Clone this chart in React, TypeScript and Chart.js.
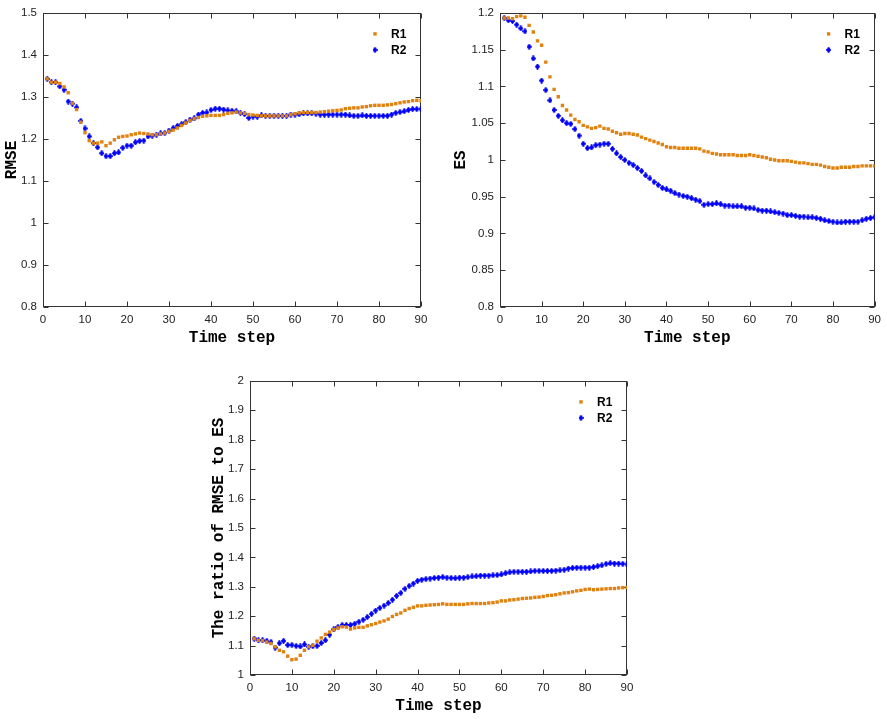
import React, { useEffect, useRef } from 'react';
import { Chart, registerables } from 'chart.js';

Chart.register(...registerables);

const TIME_STEPS = [
  1, 2, 3, 4, 5, 6, 7, 8, 9, 10, 11, 12, 13, 14, 15, 16, 17, 18, 19, 20,
  21, 22, 23, 24, 25, 26, 27, 28, 29, 30, 31, 32, 33, 34, 35, 36, 37, 38, 39, 40,
  41, 42, 43, 44, 45, 46, 47, 48, 49, 50, 51, 52, 53, 54, 55, 56, 57, 58, 59, 60,
  61, 62, 63, 64, 65, 66, 67, 68, 69, 70, 71, 72, 73, 74, 75, 76, 77, 78, 79, 80,
  81, 82, 83, 84, 85, 86, 87, 88, 89, 90,
];

const SERIES_LABELS = ['R1', 'R2'];
const X_TITLE = 'Time step';

const RMSE_R1 = [
  1.343, 1.335, 1.335, 1.332, 1.324, 1.31, 1.285, 1.27, 1.24, 1.215,
  1.196, 1.19, 1.19, 1.193, 1.184, 1.19, 1.198, 1.204, 1.206, 1.207,
  1.21, 1.212, 1.214, 1.213, 1.212, 1.21, 1.21, 1.212, 1.214, 1.218,
  1.221, 1.226, 1.232, 1.238, 1.244, 1.248, 1.251, 1.254, 1.255, 1.256,
  1.256, 1.256, 1.258, 1.261, 1.262, 1.264, 1.262, 1.261, 1.258, 1.257,
  1.256, 1.255, 1.255, 1.255, 1.255, 1.255, 1.255, 1.255, 1.258, 1.26,
  1.262, 1.263, 1.263, 1.263, 1.263, 1.264, 1.265, 1.266, 1.267, 1.268,
  1.269, 1.272, 1.273, 1.274, 1.274, 1.276, 1.277, 1.279, 1.28, 1.28,
  1.28, 1.281, 1.282, 1.284, 1.286, 1.288, 1.289, 1.291, 1.292, 1.291,
];
const RMSE_R2 = [
  1.343, 1.335, 1.335, 1.325, 1.317, 1.289, 1.284, 1.275, 1.243, 1.225,
  1.206, 1.19, 1.18, 1.166, 1.159, 1.159, 1.166, 1.168, 1.179, 1.184,
  1.184, 1.192, 1.195, 1.196, 1.206, 1.208, 1.21, 1.213, 1.214, 1.22,
  1.226, 1.231, 1.235, 1.24, 1.246, 1.249, 1.258, 1.262, 1.263, 1.269,
  1.272, 1.272, 1.27, 1.268, 1.267, 1.266, 1.262, 1.259, 1.25, 1.253,
  1.253, 1.256, 1.255, 1.255, 1.255, 1.255, 1.255, 1.255, 1.258, 1.258,
  1.259, 1.261, 1.261, 1.261, 1.26, 1.258, 1.258, 1.258, 1.258, 1.258,
  1.258, 1.258, 1.256, 1.255, 1.255, 1.256, 1.255, 1.255, 1.255, 1.255,
  1.255, 1.255, 1.258, 1.262, 1.264, 1.266, 1.269, 1.271, 1.271, 1.271,
];

const ES_R1 = [
  1.193, 1.193, 1.192, 1.195, 1.196, 1.194, 1.183, 1.174, 1.162, 1.156,
  1.133, 1.113, 1.096, 1.086, 1.074, 1.068, 1.061, 1.055, 1.052, 1.047,
  1.045, 1.043, 1.044, 1.046, 1.043, 1.042, 1.039, 1.037, 1.035, 1.036,
  1.036, 1.035, 1.034, 1.031, 1.029, 1.027, 1.025, 1.023, 1.021, 1.018,
  1.017, 1.017, 1.016, 1.016, 1.016, 1.016, 1.016, 1.015, 1.012, 1.011,
  1.009, 1.008, 1.007, 1.007, 1.007, 1.007, 1.006, 1.006, 1.006, 1.007,
  1.006, 1.005, 1.004, 1.003, 1.001, 1.0, 0.999, 0.999, 0.999, 0.998,
  0.997, 0.996, 0.996, 0.995, 0.994, 0.994, 0.993, 0.991, 0.99, 0.989,
  0.989, 0.99, 0.99, 0.99, 0.991, 0.991, 0.992, 0.992, 0.992, 0.992,
];
const ES_R2 = [
  1.193, 1.19, 1.189, 1.184, 1.179, 1.175, 1.154, 1.138, 1.127, 1.108,
  1.095, 1.081, 1.068, 1.06, 1.054, 1.05, 1.049, 1.042, 1.033, 1.022,
  1.016, 1.017, 1.02, 1.021, 1.022, 1.022, 1.015, 1.009, 1.004, 1.0,
  0.996, 0.993, 0.989, 0.985, 0.979, 0.975, 0.97, 0.966, 0.962, 0.96,
  0.958, 0.955, 0.953, 0.951, 0.95, 0.948, 0.946, 0.944, 0.939, 0.94,
  0.94, 0.941, 0.94, 0.938, 0.938, 0.937, 0.937, 0.937, 0.935, 0.935,
  0.934, 0.932, 0.931, 0.931, 0.93, 0.929, 0.928, 0.927, 0.925, 0.925,
  0.924, 0.923, 0.923, 0.922, 0.922, 0.921, 0.92, 0.918, 0.917, 0.916,
  0.915, 0.915, 0.916, 0.916, 0.916, 0.916, 0.918, 0.92, 0.921, 0.922,
];

const RATIO_R1 = [
  1.124, 1.118, 1.117, 1.112, 1.107, 1.096, 1.084, 1.079, 1.064, 1.052,
  1.054, 1.067, 1.084, 1.096, 1.101, 1.115, 1.126, 1.138, 1.146, 1.154,
  1.16, 1.164, 1.163, 1.156, 1.16, 1.162, 1.162, 1.167, 1.171, 1.175,
  1.18, 1.184, 1.19, 1.199, 1.206, 1.211, 1.22, 1.226, 1.23, 1.235,
  1.235, 1.237, 1.238, 1.239, 1.24, 1.242, 1.24, 1.24, 1.24, 1.24,
  1.24, 1.242, 1.243, 1.243, 1.243, 1.243, 1.245, 1.246, 1.248, 1.252,
  1.252, 1.255, 1.256, 1.258, 1.26, 1.261, 1.262, 1.264, 1.265, 1.267,
  1.27, 1.271, 1.273, 1.276, 1.279, 1.28, 1.283, 1.286, 1.288, 1.291,
  1.292, 1.29, 1.291, 1.292, 1.293, 1.294, 1.294, 1.296, 1.297, 1.298,
];
const RATIO_R2 = [
  1.124, 1.118, 1.118, 1.116, 1.112, 1.093, 1.108, 1.116, 1.102, 1.102,
  1.099, 1.097, 1.104, 1.096, 1.098, 1.099, 1.109, 1.118, 1.137, 1.155,
  1.163, 1.17, 1.17, 1.17, 1.174, 1.181, 1.188, 1.197, 1.208, 1.219,
  1.228, 1.236, 1.245, 1.256, 1.269, 1.279, 1.293, 1.303, 1.311, 1.32,
  1.324, 1.326, 1.328, 1.33, 1.331, 1.333, 1.331, 1.33, 1.329, 1.331,
  1.331, 1.333, 1.335, 1.336, 1.338, 1.338, 1.338, 1.339, 1.34, 1.342,
  1.346, 1.349, 1.351, 1.351, 1.351, 1.351, 1.352, 1.354, 1.354, 1.354,
  1.354, 1.354, 1.355, 1.356, 1.358, 1.362, 1.364, 1.365, 1.365, 1.365,
  1.365, 1.367, 1.37, 1.373, 1.378, 1.38, 1.379, 1.379, 1.378, 1.376,
];

const R1_COLOR = '#e0820f';
const R2_COLOR = '#0000f5';
const R1_RADIUS = 2.4;

const TITLE_FONT = { family: '"Liberation Mono", "DejaVu Sans Mono", monospace', size: 16, weight: 'bold' as const };
const TICK_FONT = { family: '"Liberation Sans", Arial, sans-serif', size: 11.5 };

// tall diamond marker (gnuplot-like), used as a Chart.js point style image
function makeDiamond(color: string): HTMLCanvasElement {
  const c = document.createElement('canvas');
  c.width = 5;
  c.height = 6;
  const g = c.getContext('2d')!;
  g.fillStyle = color;
  g.beginPath();
  g.moveTo(2.5, 0);
  g.lineTo(5, 3);
  g.lineTo(2.5, 6);
  g.lineTo(0, 3);
  g.closePath();
  g.fill();
  g.fillRect(1.5, 0.5, 2, 5);
  g.fillRect(0.5, 2, 4, 2);
  return c;
}

function drawMarker(ctx: CanvasRenderingContext2D, style: any, x: number, y: number, r: number, color: string) {
  if (style && typeof style === 'object' && 'width' in style) {
    ctx.drawImage(style, x - style.width / 2, y - style.height / 2);
    return;
  }
  ctx.fillStyle = color;
  const s = Math.SQRT1_2 * r;
  ctx.beginPath();
  ctx.rect(x - s, y - s, 2 * s, 2 * s);
  ctx.fill();
}

const framePlugin = {
  id: 'gnuFrame',
  beforeDatasetsDraw(chart: any) {
    const { ctx, chartArea, scales } = chart;
    const { left, right, top, bottom } = chartArea;
    ctx.save();
    ctx.strokeStyle = '#333';
    ctx.lineWidth = 1;
    const L = Math.round(left) + 0.5;
    const R = Math.round(right) - 0.5;
    const T = Math.round(top) + 0.5;
    const B = Math.round(bottom) - 0.5;
    ctx.strokeRect(L, T, R - L, B - T);
    const tick = 5;
    ctx.beginPath();
    scales.x.ticks.forEach((t: any) => {
      const px = Math.round(scales.x.getPixelForValue(t.value)) + 0.5;
      ctx.moveTo(px, B);
      ctx.lineTo(px, B - tick);
      ctx.moveTo(px, T);
      ctx.lineTo(px, T + tick);
    });
    scales.y.ticks.forEach((t: any) => {
      const py = Math.round(scales.y.getPixelForValue(t.value)) + 0.5;
      ctx.moveTo(L, py);
      ctx.lineTo(L + tick, py);
      ctx.moveTo(R, py);
      ctx.lineTo(R - tick, py);
    });
    ctx.stroke();
    ctx.restore();
  },
};

const legendPlugin = {
  id: 'insideLegend',
  afterDraw(chart: any) {
    const { ctx, chartArea } = chart;
    ctx.save();
    ctx.font = 'bold 12px "Liberation Sans", Arial, sans-serif';
    ctx.textBaseline = 'middle';
    ctx.textAlign = 'left';
    chart.data.datasets.forEach((ds: any, i: number) => {
      const y = chartArea.top + 21 + 16 * i;
      drawMarker(ctx, ds.pointStyle, chartArea.right - 46, y, ds.pointRadius, ds.backgroundColor);
      ctx.fillStyle = '#000';
      ctx.fillText(ds.label, chartArea.right - 30, y + 0.5);
    });
    ctx.restore();
  },
};

const fmt = (v: any) => String(Number(Number(v).toFixed(3)));

type PanelProps = {
  left: number;
  top: number;
  width: number;
  height: number;
  padLeft: number;
  padRight: number;
  yWidth: number;
  yTitle: string;
  yMin: number;
  yMax: number;
  yStep: number;
  r1: number[];
  r2: number[];
};

function Panel(p: PanelProps) {
  const ref = useRef<HTMLCanvasElement>(null);
  useEffect(() => {
    if (!ref.current) return;
    const diamond = makeDiamond(R2_COLOR);
    const chart = new Chart(ref.current, {
      type: 'scatter',
      data: {
        datasets: [
          {
            label: SERIES_LABELS[0],
            data: TIME_STEPS.map((t, i) => ({ x: t, y: p.r1[i] })),
            pointStyle: 'rect',
            pointRadius: R1_RADIUS,
            pointBorderWidth: 0,
            borderWidth: 0,
            backgroundColor: R1_COLOR,
            borderColor: R1_COLOR,
          },
          {
            label: SERIES_LABELS[1],
            data: TIME_STEPS.map((t, i) => ({ x: t, y: p.r2[i] })),
            pointStyle: diamond,
            pointRadius: 3,
            pointBorderWidth: 0,
            borderWidth: 0,
            backgroundColor: R2_COLOR,
            borderColor: R2_COLOR,
          },
        ],
      },
      options: {
        responsive: false,
        animation: false,
        layout: { padding: { left: p.padLeft, right: p.padRight, top: 10, bottom: 0 } },
        plugins: { legend: { display: false }, tooltip: { enabled: false } },
        scales: {
          x: {
            type: 'linear',
            min: 0,
            max: 90,
            ticks: { stepSize: 10, padding: 6, font: TICK_FONT, color: '#222', callback: fmt },
            grid: { display: false, drawTicks: false },
            border: { display: false },
            title: { display: true, text: X_TITLE, font: TITLE_FONT, color: '#000', padding: 0 },
            afterFit: (s: any) => {
              s.height = 41;
            },
          },
          y: {
            type: 'linear',
            min: p.yMin,
            max: p.yMax,
            ticks: { stepSize: p.yStep, padding: 6, font: TICK_FONT, color: '#222', callback: fmt },
            grid: { display: false, drawTicks: false },
            border: { display: false },
            title: { display: true, text: p.yTitle, font: TITLE_FONT, color: '#000', padding: 0 },
            afterFit: (s: any) => {
              s.width = p.yWidth;
            },
          },
        },
      } as any,
      plugins: [framePlugin, legendPlugin],
    });
    return () => chart.destroy();
  }, []);
  return (
    <canvas
      ref={ref}
      width={p.width}
      height={p.height}
      style={{ position: 'absolute', left: p.left, top: p.top, width: p.width, height: p.height }}
    />
  );
}

export default function App() {
  return (
    <div style={{ position: 'absolute', left: 0, top: 0, width: 887, height: 719, background: '#fff' }}>
      <Panel left={0} top={0} width={440} height={348} padLeft={2} padRight={19} yWidth={41}
        yTitle="RMSE" yMin={0.8} yMax={1.5} yStep={0.1} r1={RMSE_R1} r2={RMSE_R2} />
      <Panel left={440} top={0} width={447} height={348} padLeft={11} padRight={10} yWidth={49}
        yTitle="ES" yMin={0.8} yMax={1.2} yStep={0.05} r1={ES_R1} r2={ES_R2} />
      <Panel left={200} top={368} width={440} height={348} padLeft={9} padRight={13} yWidth={41}
        yTitle="The ratio of RMSE to ES" yMin={1} yMax={2} yStep={0.1} r1={RATIO_R1} r2={RATIO_R2} />
    </div>
  );
}
